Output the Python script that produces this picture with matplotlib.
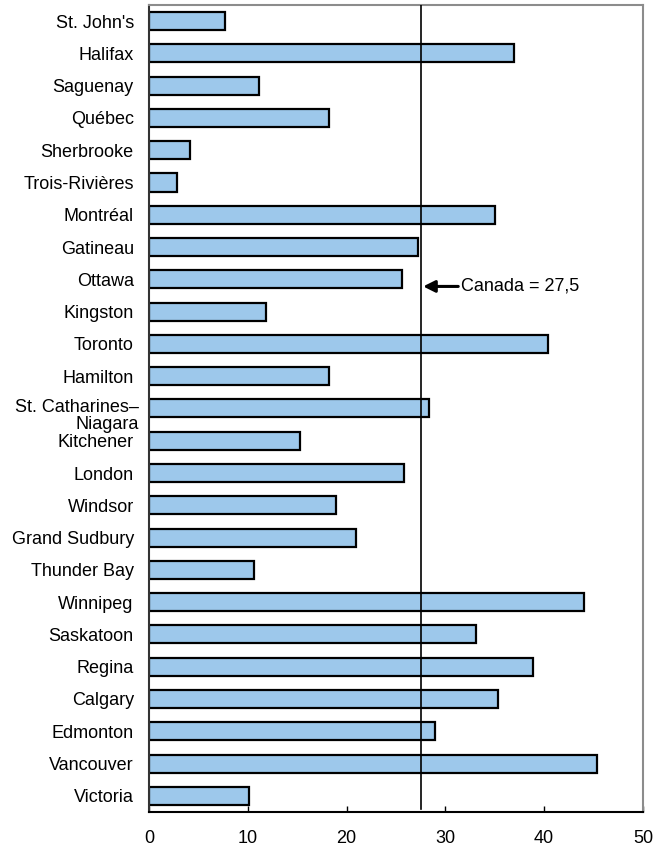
import numpy as np
import matplotlib.pyplot as plt

plt.rcParams['font.family'] = ['Liberation Sans', 'DejaVu Sans']

cities = ["St. John's", "Halifax", "Saguenay", "Québec", "Sherbrooke", "Trois-Rivières",
          "Montréal", "Gatineau", "Ottawa", "Kingston", "Toronto", "Hamilton",
          "St. Catharines–\nNiagara", "Kitchener", "London", "Windsor", "Grand Sudbury",
          "Thunder Bay", "Winnipeg", "Saskatoon", "Regina", "Calgary", "Edmonton",
          "Vancouver", "Victoria"]
values = [7.7, 36.9, 11.1, 18.2, 4.1, 2.8,
          35.0, 27.2, 25.6, 11.8, 40.4, 18.2,
          28.3, 15.3, 25.8, 18.9, 21.0,
          10.6, 44.0, 33.1, 38.9, 35.3, 28.9,
          45.3, 10.1]
canada = 27.5
xticks = [0, 10, 20, 30, 40, 50]

fig = plt.figure(figsize=(6.6, 8.49), dpi=100)
ax = fig.add_axes([0.2258, 0.0436, 0.7484, 0.9506])

y = np.arange(len(cities))
ax.barh(y, values, height=0.56, color='#9dc8eb', edgecolor='black', linewidth=1.6, zorder=2)
ax.axvline(canada, ymin=0.004, ymax=1, color='black', linewidth=1.2, zorder=3)

ax.set_xlim(0, 50)
ax.set_ylim(len(cities) - 0.5, -0.5)
ax.set_xticks(xticks)
ax.set_xticklabels([str(t) for t in xticks], fontsize=13)
ax.set_yticks(y)
labels = [c if '\n' not in c else '' for c in cities]
ax.set_yticklabels(labels, fontsize=13)
ax.tick_params(axis='y', length=0, pad=11)
ax.tick_params(axis='x', direction='in', length=4.5, width=1, pad=13)

# two-line label sits lower than the bar centre
idx = [i for i, c in enumerate(cities) if '\n' in c][0]
ax.annotate(cities[idx], xy=(0, idx), xycoords=('axes fraction', 'data'),
            xytext=(-7, -5.5), textcoords='offset points', ha='right', va='center',
            multialignment='right', fontsize=13, linespacing=0.95)

ax.annotate('', xy=(canada + 0.25, 8.22), xytext=(31.3, 8.22),
            arrowprops=dict(arrowstyle='-|>,head_length=0.7,head_width=0.35',
                            color='black', linewidth=2.2, shrinkA=0, shrinkB=0), zorder=4)
ax.text(31.6, 8.22, 'Canada = 27,5', fontsize=13, va='center', ha='left')

ax.spines['left'].set_color('#333333')
ax.spines['bottom'].set_color('black')
ax.spines['top'].set_color('#8c8c8c')
ax.spines['right'].set_color('#8c8c8c')
for s in ax.spines.values():
    s.set_linewidth(1.5)

fig.savefig('out.png', dpi=100)
